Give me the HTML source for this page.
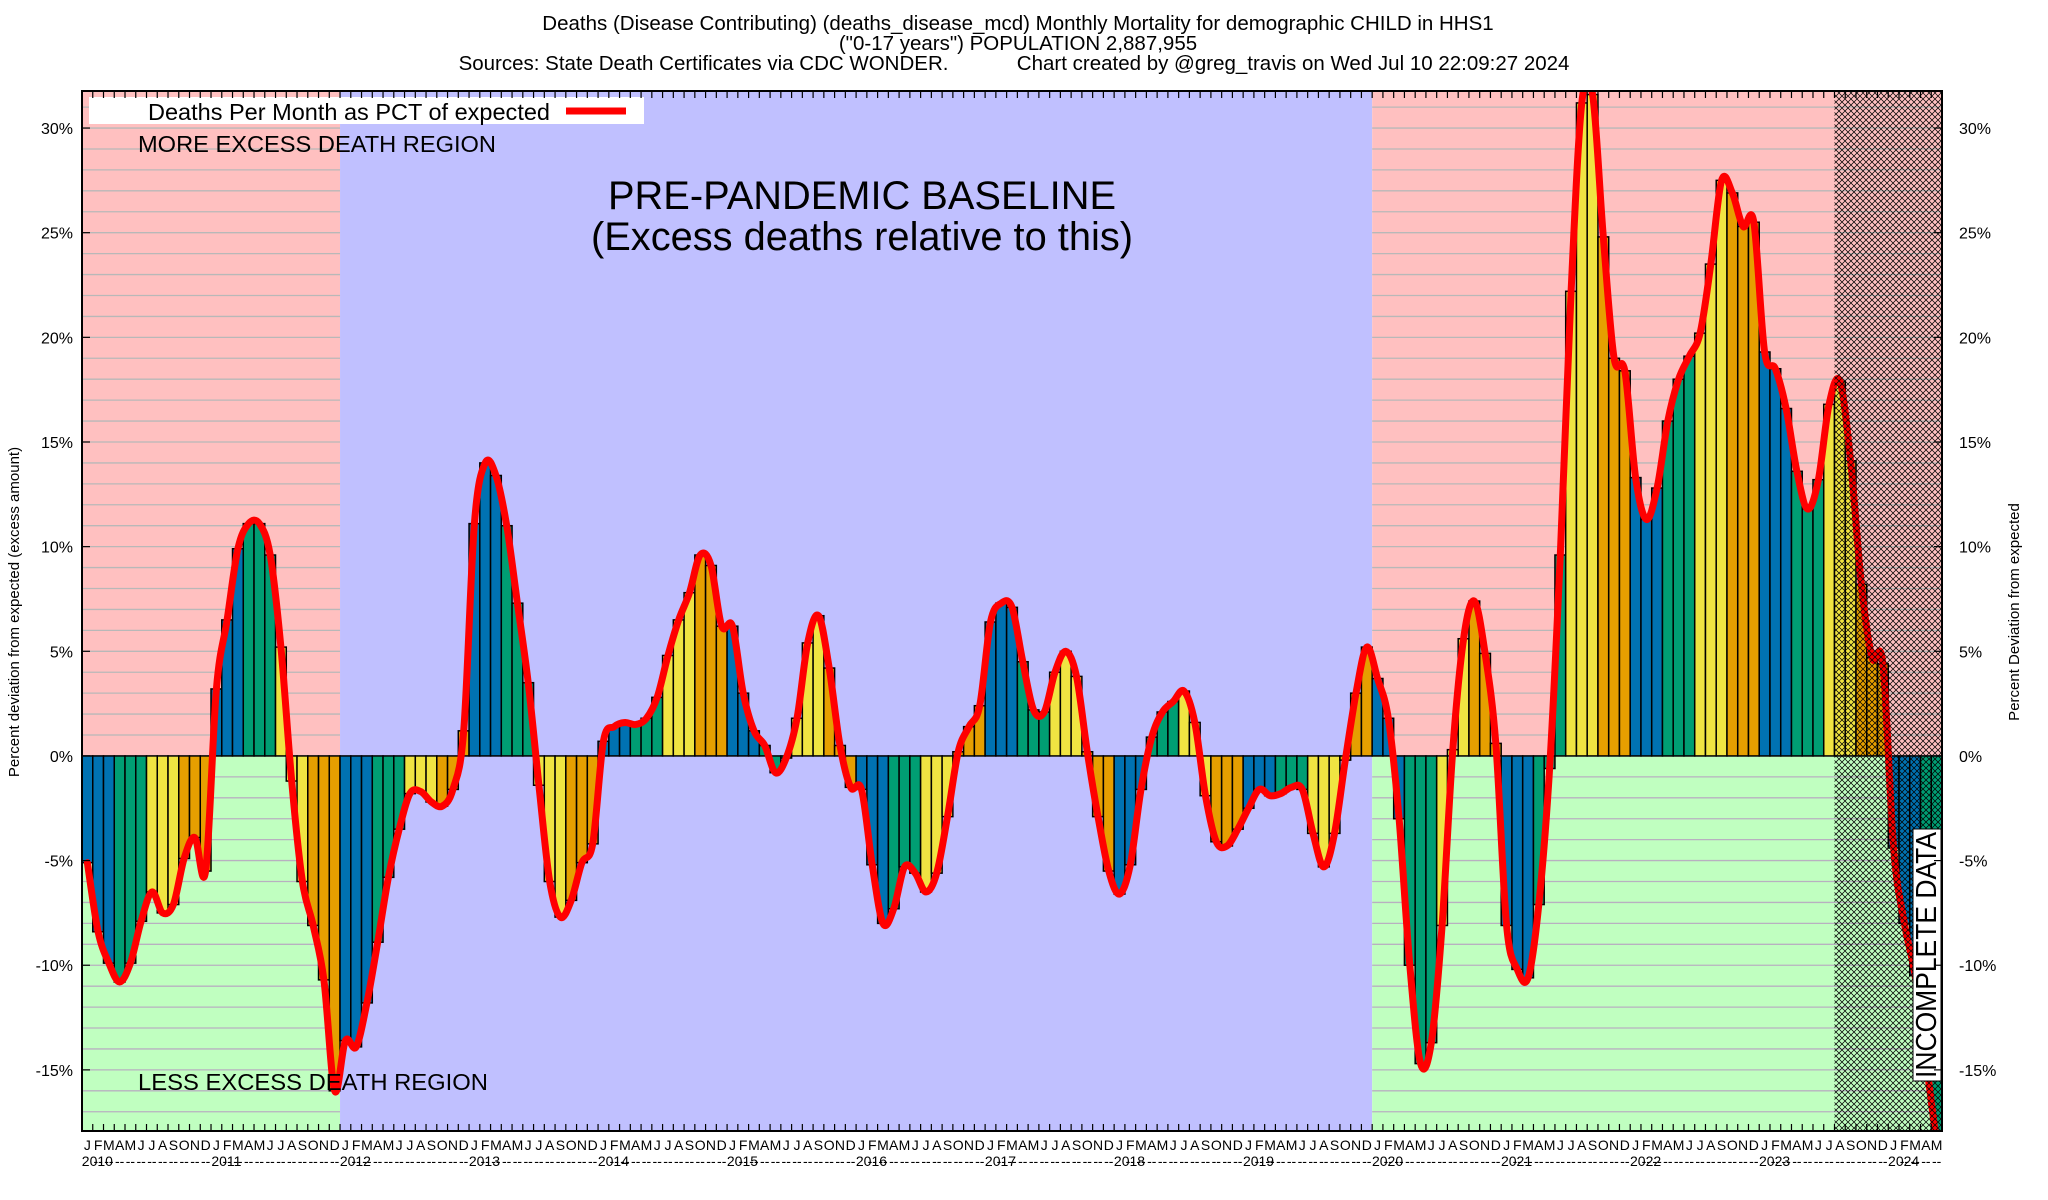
<!DOCTYPE html>
<html><head><meta charset="utf-8"><style>
html,body{margin:0;padding:0;background:#fff;}
svg{display:block;font-family:"Liberation Sans",Arial,sans-serif;}
</style></head><body>
<svg id="chart" width="2048" height="1200" viewBox="0 0 2048 1200" xmlns="http://www.w3.org/2000/svg">
<defs>
<clipPath id="plotclip"><rect x="82" y="91" width="1860" height="1040"/></clipPath>
<pattern id="hatch" width="6" height="6" patternUnits="userSpaceOnUse">
<path d="M0,0 L6,6 M6,0 L0,6" stroke="#000" stroke-width="0.75" fill="none"/>
</pattern>
</defs>
<g id="title" font-size="20.5" text-anchor="middle" fill="#000">
<text x="1018" y="30">Deaths (Disease Contributing) (deaths_disease_mcd) Monthly Mortality for demographic CHILD in HHS1</text>
<text x="1018" y="50">("0-17 years") POPULATION 2,887,955</text>
<text x="1014" y="70" xml:space="preserve">Sources: State Death Certificates via CDC WONDER.            Chart created by @greg_travis on Wed Jul 10 22:09:27 2024</text>
</g>
<g id="bg"></g>
<g id="grid"></g>
<g id="bars" clip-path="url(#plotclip)"></g>
<path id="line" fill="none" stroke="#ff0000" stroke-width="7" stroke-linejoin="round" stroke-linecap="round" clip-path="url(#plotclip)"/>
<rect id="hatchrect" fill="url(#hatch)" y="91" height="1040"/>
<g fill="#000">
<text x="138" y="152" font-size="23" textLength="358" lengthAdjust="spacingAndGlyphs">MORE EXCESS DEATH REGION</text>
<text x="138" y="1090" font-size="23" textLength="350" lengthAdjust="spacingAndGlyphs">LESS EXCESS DEATH REGION</text>
<text x="862" y="209" font-size="40" text-anchor="middle" textLength="508" lengthAdjust="spacingAndGlyphs">PRE-PANDEMIC BASELINE</text>
<text x="862" y="250" font-size="40" text-anchor="middle" textLength="542" lengthAdjust="spacingAndGlyphs">(Excess deaths relative to this)</text>
</g>
<g>
<rect x="89" y="97" width="555" height="27" fill="#fff"/>
<text x="148" y="120" font-size="23" textLength="402" lengthAdjust="spacingAndGlyphs">Deaths Per Month as PCT of expected</text>
<line x1="566" y1="111" x2="626" y2="111" stroke="#ff0000" stroke-width="7"/>
</g>
<g>
<rect x="1913" y="829" width="28" height="252" fill="#fff" stroke="#000" stroke-width="1"/>
<text transform="translate(1936,1078) rotate(-90)" font-size="29" textLength="246" lengthAdjust="spacingAndGlyphs">INCOMPLETE DATA</text>
</g>
<rect x="82" y="91" width="1860" height="1040" fill="none" stroke="#000" stroke-width="2"/>
<g id="ticks"></g>
<g id="ylabels" font-size="16"></g>
<g id="xlabels" font-size="14" text-anchor="middle"></g>
<text transform="translate(19,612) rotate(-90)" font-size="15" text-anchor="middle">Percent deviation from expected (excess amount)</text>
<text transform="translate(2019,612) rotate(-90)" font-size="15" text-anchor="middle">Percent Deviation from expected</text>
</svg>
<script>
const years = [2010,2011,2012,2013,2014,2015,2016,2017,2018,2019,2020,2021,2022,2023,2024];
const monthLetters = ["J","F","M","A","M","J","J","A","S","O","N","D"];
const yTicks = [-15,-10,-5,0,5,10,15,20,25,30];
const values2010_2014 = [
-5.1,-8.4,-9.9,-10.8,-9.9,-7.9,-6.5,-7.5,-7.1,-4.9,-3.9,-5.5,
3.2,6.5,9.9,11.1,11.1,9.6,5.2,-1.2,-6.0,-8.1,-10.7,-16.0,
-13.6,-13.9,-11.8,-8.9,-5.8,-3.5,-1.8,-1.7,-2.2,-2.4,-1.6,1.2,
11.1,14.0,13.4,11.0,7.3,3.5,-1.4,-6.0,-7.7,-6.9,-5.1,-4.2,
0.7,1.4,1.6,1.5,1.8,2.8,4.8,6.5,7.8,9.6,9.1,6.2];
const values2015_2019 = [
6.2,3.0,1.2,0.5,-0.8,-0.1,1.8,5.4,6.7,4.2,0.5,-1.5,
-1.6,-5.2,-8.0,-7.3,-5.3,-5.6,-6.5,-5.6,-2.9,0.2,1.4,2.4,
6.4,7.3,7.1,4.5,2.2,2.1,4.0,5.0,3.8,0.2,-2.9,-5.5,
-6.6,-5.2,-1.6,0.9,2.1,2.6,3.1,1.6,-1.9,-4.1,-4.3,-3.5,
-2.5,-1.6,-1.9,-1.8,-1.5,-1.6,-3.7,-5.3,-3.7,-0.2,3.0,5.2];
const values2020_2024 = [
3.7,1.8,-3.0,-10.0,-14.7,-13.7,-8.1,0.3,5.6,7.4,4.9,0.6,
-8.1,-10.2,-10.6,-7.1,-0.6,9.6,22.2,31.2,31.6,24.8,19.0,18.4,
13.3,11.3,12.8,16.0,18.0,19.1,20.2,23.5,27.5,26.9,25.3,25.5,
19.3,18.5,16.6,13.6,11.8,13.2,16.8,17.9,14.1,8.2,4.7,4.4,
-4.4,-8.0,-10.5,-14.5,-18.5];
const values = values2010_2014.concat(values2015_2019, values2020_2024);
const baselineStart = 24, baselineEnd = 120, incompleteStart = 163;

const NS = "http://www.w3.org/2000/svg";
const L = 82, R = 1942, T = 91, B = 1131;
const YMIN = -17.92, YMAX = 31.77;
const N = values.length;
const bw = (R - L) / N;
function xL(i){ return L + i * bw; }
function xC(i){ return L + (i + 0.5) * bw; }
function yS(v){ return B - (v - YMIN) / (YMAX - YMIN) * (B - T); }
function mk(tag, attrs, parent){ const e = document.createElementNS(NS, tag); for (const k in attrs) e.setAttribute(k, attrs[k]); parent.appendChild(e); return e; }

const bg = document.getElementById("bg");
const y0 = yS(0);
let r;
r = mk("rect", {x:L, y:T, width:xL(baselineStart)-L, height:y0-T, fill:"#ffc0c0"}, bg);


r = mk("rect", {x:L, y:y0, width:xL(baselineStart)-L, height:B-y0, fill:"#c0ffc0"}, bg);


r = mk("rect", {x:xL(baselineStart), y:T, width:xL(baselineEnd)-xL(baselineStart), height:B-T, fill:"#c0c0ff"}, bg);


r = mk("rect", {x:xL(baselineEnd), y:T, width:R-xL(baselineEnd), height:y0-T, fill:"#ffc0c0"}, bg);


r = mk("rect", {x:xL(baselineEnd), y:y0, width:R-xL(baselineEnd), height:B-y0, fill:"#c0ffc0"}, bg);



const grid = document.getElementById("grid");
for (let v = Math.ceil(YMIN); v <= Math.floor(YMAX); v++) {
  const yy = yS(v);
  const segs = [[L, xL(baselineStart)], [xL(baselineEnd), R]];
  for (const s of segs) {
    const g = mk("line", {x1:s[0], x2:s[1], y1:yy, y2:yy, stroke: v>0 ? "#b8b8b8" : "#b8b0c0", "stroke-width":1.3}, grid);
    
    
  }
}

const colors = ["#0072b2","#009e73","#f0e442","#e69f00"];
const bars = document.getElementById("bars");
for (let i = 0; i < N; i++) {
  const v = values[i];
  const ya = yS(Math.max(v,0)), yb = yS(Math.min(v,0));
  const b = mk("rect", {x:xL(i), y:ya, width:bw, height:Math.max(yb-ya,0.5), fill:colors[Math.floor((i%12)/3)], stroke:"#000", "stroke-width":1.5}, bars);
  
  
}

const pts = values.map((v,i)=>[xC(i), yS(v)]);
let d = "M" + pts[0][0] + "," + pts[0][1];
for (let i = 0; i < pts.length-1; i++) {
  const p0 = pts[Math.max(i-1,0)], p1 = pts[i], p2 = pts[i+1], p3 = pts[Math.min(i+2,pts.length-1)];
  const c1 = [p1[0]+(p2[0]-p0[0])/6, p1[1]+(p2[1]-p0[1])/6];
  const c2 = [p2[0]-(p3[0]-p1[0])/6, p2[1]-(p3[1]-p1[1])/6];
  d += " C" + c1[0].toFixed(1)+","+c1[1].toFixed(1)+" "+c2[0].toFixed(1)+","+c2[1].toFixed(1)+" "+p2[0].toFixed(1)+","+p2[1].toFixed(1);
}
document.getElementById("line").setAttribute("d", d);

const hr = document.getElementById("hatchrect");
hr.setAttribute("x", xL(incompleteStart));
hr.setAttribute("width", R - xL(incompleteStart));

const ticks = document.getElementById("ticks");
for (let i = 1; i < N; i++) {
  const x = xL(i);
  const t1 = mk("line", {x1:x, x2:x, y1:B, y2:B-7, stroke:"#000", "stroke-width":1.2}, ticks);
  
  
  const t2 = mk("line", {x1:x, x2:x, y1:T, y2:T+7, stroke:"#000", "stroke-width":1.2}, ticks);
  
  
}
const ylab = document.getElementById("ylabels");
for (const v of yTicks) {
  const yy = yS(v);
  const tl = mk("line", {x1:L, x2:L+8, y1:yy, y2:yy, stroke:"#000", "stroke-width":1.2}, ticks);
  
  
  const tr = mk("line", {x1:R-8, x2:R, y1:yy, y2:yy, stroke:"#000", "stroke-width":1.2}, ticks);
  
  
  const a = mk("text", {x:73, y:yy+6, "text-anchor":"end"}, ylab);
  a.textContent = v + "%";
  
  
  const b = mk("text", {x:1959, y:yy+6, "text-anchor":"start"}, ylab);
  b.textContent = v + "%";
  
  
}
const xlab = document.getElementById("xlabels");
for (let i = 0; i < N; i++) {
  const m = mk("text", {x:xC(i), y:1150}, xlab);
  m.textContent = monthLetters[i%12];
  
  
  const yt = mk("text", {x:(i%12===0)? xC(i)+10 : xC(i), y:1166}, xlab);
  yt.textContent = (i%12===0) ? String(years[i/12]) : "--";
  
  
}
</script>
</body></html>
